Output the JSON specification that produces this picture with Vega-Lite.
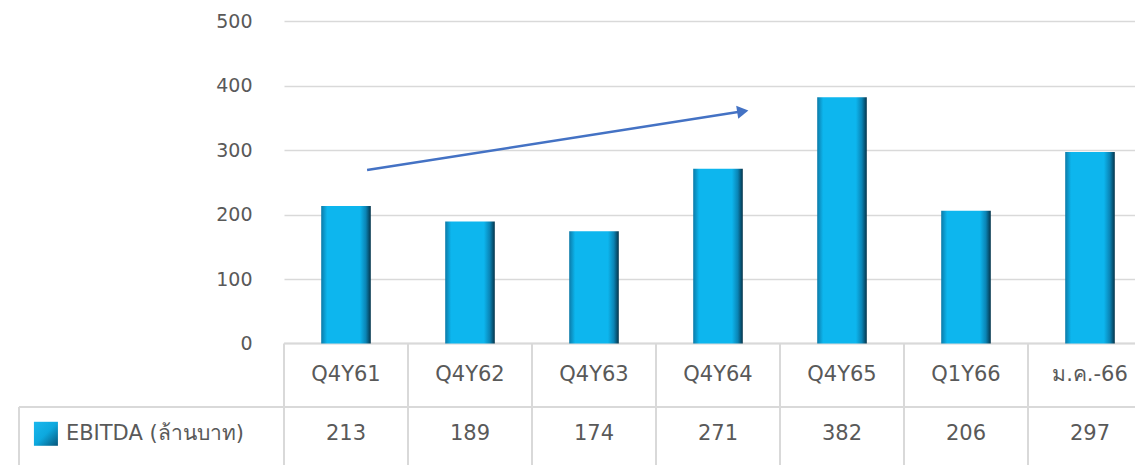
{
  "$schema": "https://vega.github.io/schema/vega-lite/v6.json",
  "autosize": "none",
  "width": 851,
  "height": 465,
  "padding": {"left": 284, "top": 0, "right": 0, "bottom": 0},
  "background": "white",
  "config": {"view": {"stroke": null}, "font": "DejaVu Sans"},
  "datasets": {
    "main": [
      {"period": "Q4Y61", "ebitda": 213},
      {"period": "Q4Y62", "ebitda": 189},
      {"period": "Q4Y63", "ebitda": 174},
      {"period": "Q4Y64", "ebitda": 271},
      {"period": "Q4Y65", "ebitda": 382},
      {"period": "Q1Y66", "ebitda": 206},
      {"period": "ม.ค.-66", "ebitda": 297}
    ],
    "hlines": [
      {"c": 0, "c2": 7, "v": 0},
      {"c": -2.137, "c2": 7, "v": -98.4}
    ],
    "vlines": [
      {"c": -2.137, "v": -98.4, "v2": -200},
      {"c": 0, "v": 0, "v2": -200},
      {"c": 1, "v": 0, "v2": -200},
      {"c": 2, "v": 0, "v2": -200},
      {"c": 3, "v": 0, "v2": -200},
      {"c": 4, "v": 0, "v2": -200},
      {"c": 5, "v": 0, "v2": -200},
      {"c": 6, "v": 0, "v2": -200},
      {"c": 7, "v": 0, "v2": -200}
    ],
    "arrow": [
      {"c": 0.67, "v": 269},
      {"c": 3.70, "v": 360}
    ],
    "arrowhead": [
      {"c": 3.70, "v": 360}
    ],
    "legend": [
      {"c": -1.92, "v": -140, "label": "EBITDA (ล้านบาท)"}
    ]
  },
  "layer": [
    {
      "data": {"name": "main"},
      "mark": {"type": "bar", "opacity": 0},
      "encoding": {
        "x": {"field": "period", "type": "nominal", "sort": null, "axis": null, "scale": {"range": [0, 868], "paddingInner": 0.6, "paddingOuter": 0.3}},
        "y": {
          "field": "ebitda", "type": "quantitative",
          "scale": {"domain": [-188.4, 532.6], "nice": false, "zero": false},
          "axis": {
            "values": [0, 100, 200, 300, 400, 500],
            "grid": true, "gridColor": "#D9D9D9", "gridWidth": 1.5,
            "domain": false, "ticks": false,
            "labelPadding": 32, "labelFontSize": 19, "labelColor": "#595959",
            "labelFont": "DejaVu Sans", "title": null
          }
        }
      }
    },
    {
      "data": {"name": "hlines"},
      "mark": {"type": "rule", "color": "#D9D9D9", "strokeWidth": 2},
      "encoding": {
        "x": {"field": "c", "type": "quantitative", "axis": null, "scale": {"domain": [0, 7], "range": [0, 868], "nice": false, "zero": false}},
        "x2": {"field": "c2"},
        "y": {"field": "v", "type": "quantitative"}
      }
    },
    {
      "data": {"name": "vlines"},
      "mark": {"type": "rule", "color": "#D9D9D9", "strokeWidth": 2},
      "encoding": {
        "x": {"field": "c", "type": "quantitative", "axis": null, "scale": {"domain": [0, 7], "range": [0, 868], "nice": false, "zero": false}},
        "y": {"field": "v", "type": "quantitative"},
        "y2": {"field": "v2"}
      }
    },
    {
      "data": {"name": "main"},
      "mark": {
        "type": "bar",
        "color": {
          "gradient": "linear", "x1": 0, "y1": 0, "x2": 1, "y2": 0,
          "stops": [
            {"offset": 0, "color": "#0b7aa8"},
            {"offset": 0.12, "color": "#0db6ee"},
            {"offset": 0.78, "color": "#0db6ee"},
            {"offset": 0.9, "color": "#0a84b5"},
            {"offset": 1, "color": "#05344a"}
          ]
        }
      },
      "encoding": {
        "x": {"field": "period", "type": "nominal", "sort": null, "axis": null, "scale": {"range": [0, 868], "paddingInner": 0.6, "paddingOuter": 0.3}},
        "y": {"field": "ebitda", "type": "quantitative"},
        "y2": {"datum": 0}
      }
    },
    {
      "data": {"name": "main"},
      "mark": {"type": "text", "fontSize": 21, "color": "#595959", "baseline": "middle"},
      "encoding": {
        "x": {"field": "period", "type": "nominal", "sort": null, "axis": null, "scale": {"range": [0, 868], "paddingInner": 0.6, "paddingOuter": 0.3}},
        "y": {"datum": -49},
        "text": {"field": "period"}
      }
    },
    {
      "data": {"name": "main"},
      "mark": {"type": "text", "fontSize": 21, "color": "#595959", "baseline": "middle"},
      "encoding": {
        "x": {"field": "period", "type": "nominal", "sort": null, "axis": null, "scale": {"range": [0, 868], "paddingInner": 0.6, "paddingOuter": 0.3}},
        "y": {"datum": -140},
        "text": {"field": "ebitda", "type": "quantitative"}
      }
    },
    {
      "data": {"name": "arrow"},
      "mark": {"type": "line", "color": "#4472C4", "strokeWidth": 2.5},
      "encoding": {
        "x": {"field": "c", "type": "quantitative", "axis": null, "scale": {"domain": [0, 7], "range": [0, 868], "nice": false, "zero": false}},
        "y": {"field": "v", "type": "quantitative"}
      }
    },
    {
      "data": {"name": "arrowhead"},
      "mark": {"type": "point", "shape": "triangle-right", "filled": true, "color": "#4472C4", "size": 170, "angle": -9, "opacity": 1},
      "encoding": {
        "x": {"field": "c", "type": "quantitative", "axis": null, "scale": {"domain": [0, 7], "range": [0, 868], "nice": false, "zero": false}},
        "y": {"field": "v", "type": "quantitative"}
      }
    },
    {
      "data": {"name": "legend"},
      "mark": {
        "type": "point", "shape": "square", "filled": true, "size": 576, "opacity": 1,
        "color": {
          "gradient": "linear", "x1": 0, "y1": 0, "x2": 1, "y2": 1,
          "stops": [
            {"offset": 0, "color": "#1ab8ee"},
            {"offset": 0.5, "color": "#0da8de"},
            {"offset": 1, "color": "#06557a"}
          ]
        }
      },
      "encoding": {
        "x": {"field": "c", "type": "quantitative", "axis": null, "scale": {"domain": [0, 7], "range": [0, 868], "nice": false, "zero": false}},
        "y": {"field": "v", "type": "quantitative"}
      }
    },
    {
      "data": {"name": "legend"},
      "mark": {"type": "text", "fontSize": 21, "color": "#595959", "align": "left", "baseline": "middle", "dx": 20},
      "encoding": {
        "x": {"field": "c", "type": "quantitative", "axis": null, "scale": {"domain": [0, 7], "range": [0, 868], "nice": false, "zero": false}},
        "y": {"field": "v", "type": "quantitative"},
        "text": {"field": "label"}
      }
    }
  ],
  "resolve": {"scale": {"x": "independent"}}
}
